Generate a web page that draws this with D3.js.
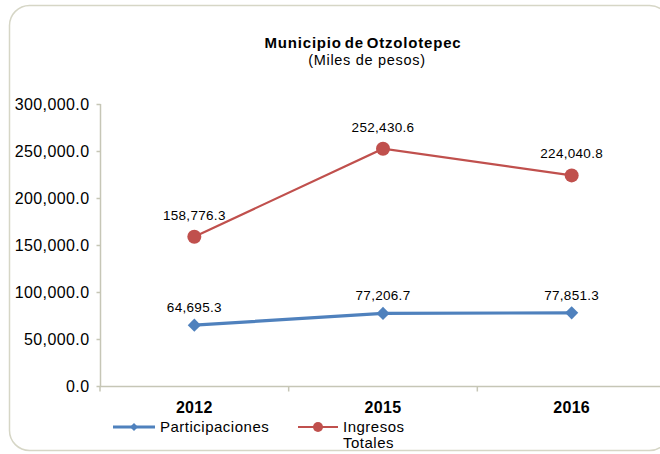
<!DOCTYPE html>
<html><head><meta charset="utf-8">
<script src="https://cdn.jsdelivr.net/npm/d3@7"></script>
<style>
html,body{margin:0;padding:0;background:#fff;}
svg{display:block;font-family:"Liberation Sans",Arial,sans-serif;}
</style></head>
<body>
<svg id="c" width="660" height="454"></svg>
<script>
const categories = ["2012", "2015", "2016"];
const participaciones = [64695.3, 77206.7, 77851.3];
const ingresosTotales = [158776.3, 252430.6, 224040.8];
const yTicks = [0, 50000, 100000, 150000, 200000, 250000, 300000];
const seriesNames = ["Participaciones", "Ingresos Totales"];

const svg = d3.select("#c");
const axisColor = "#c6c6b6";

// outer rounded border
svg.append("rect").attr("x", 9.5).attr("y", 5.5).attr("width", 660).attr("height", 445)
  .attr("rx", 20).attr("ry", 20).attr("fill", "none").attr("stroke", "#d6d6c6").attr("stroke-width", 1.5);

// title
svg.append("text").attr("x", 363).attr("y", 48).attr("text-anchor", "middle")
  .attr("font-size", 15).attr("font-weight", "bold").attr("letter-spacing", 0.8).attr("word-spacing", -2)
  .attr("fill", "#000").text("Municipio de Otzolotepec");
svg.append("text").attr("x", 367).attr("y", 65).attr("text-anchor", "middle")
  .attr("font-size", 14.5).attr("letter-spacing", 0.7)
  .attr("fill", "#000").text("(Miles de pesos)");

const x = d3.scaleBand().domain(categories).range([100, 666]).padding(0);
const y = d3.scaleLinear().domain([0, 300000]).range([386, 104]);

// y axis
const yAxis = d3.axisLeft(y).tickValues(yTicks).tickSize(4).tickPadding(7)
  .tickFormat(d => d3.format(",.1f")(d));
const gy = svg.append("g").attr("transform", "translate(100.5,0)").call(yAxis);
gy.select(".domain").attr("stroke", axisColor).attr("stroke-width", 1.5).attr("d", "M0,104V386");
gy.selectAll(".tick line").attr("stroke", axisColor).attr("stroke-width", 1.5);
gy.selectAll(".tick text").attr("font-size", 16).attr("letter-spacing", 0.4)
  .attr("fill", "#000").attr("font-family", "Liberation Sans, Arial, sans-serif");

// x axis
const gx = svg.append("g").attr("transform", "translate(0,386.5)");
gx.append("line").attr("x1", 100).attr("x2", 660).attr("y1", 0).attr("y2", 0)
  .attr("stroke", axisColor).attr("stroke-width", 1.5);
categories.forEach((c, i) => {
  const bx = x(c);
  gx.append("line").attr("x1", bx).attr("x2", bx).attr("y1", 0).attr("y2", 5)
    .attr("stroke", axisColor).attr("stroke-width", 1.5);
  gx.append("text").attr("x", bx + x.bandwidth() / 2).attr("y", 26)
    .attr("text-anchor", "middle").attr("font-size", 16).attr("font-weight", "bold")
    .attr("letter-spacing", 0.3).attr("fill", "#000").text(c);
});

const cx = c => x(c) + x.bandwidth() / 2;
const fmt = d3.format(",.1f");

const red = "#c0504d", blue = "#4f81bd";
const redData = categories.map((c, i) => ({c, v: ingresosTotales[i]}));
const blueData = categories.map((c, i) => ({c, v: participaciones[i]}));
const line = d3.line().x(d => cx(d.c)).y(d => y(d.v));

// Ingresos Totales (red)
svg.append("path").datum(redData).attr("d", line).attr("fill", "none")
  .attr("stroke", red).attr("stroke-width", 2.2);
svg.selectAll(".rm").data(redData).enter().append("circle")
  .attr("cx", d => cx(d.c)).attr("cy", d => y(d.v)).attr("r", 7).attr("fill", red);
svg.selectAll(".rl").data(redData).enter().append("text")
  .attr("x", d => cx(d.c)).attr("y", d => y(d.v) - 17).attr("text-anchor", "middle")
  .attr("font-size", 13.5).attr("letter-spacing", 0.3).attr("fill", "#000").text(d => fmt(d.v));

// Participaciones (blue)
svg.append("path").datum(blueData).attr("d", line).attr("fill", "none")
  .attr("stroke", blue).attr("stroke-width", 3.2);
const diamond = d3.symbol().type(d3.symbolDiamond2).size(110);
svg.selectAll(".bm").data(blueData).enter().append("path")
  .attr("transform", d => `translate(${cx(d.c)},${y(d.v)})`).attr("d", diamond()).attr("fill", blue);
svg.selectAll(".bl").data(blueData).enter().append("text")
  .attr("x", d => cx(d.c)).attr("y", d => y(d.v) - 13).attr("text-anchor", "middle")
  .attr("font-size", 13.5).attr("letter-spacing", 0.3).attr("fill", "#000").text(d => fmt(d.v));

// legend
const lg = svg.append("g");
lg.append("line").attr("x1", 113).attr("x2", 155).attr("y1", 427).attr("y2", 427)
  .attr("stroke", blue).attr("stroke-width", 3.2);
lg.append("path").attr("transform", "translate(134,427)").attr("d", d3.symbol().type(d3.symbolDiamond2).size(40)()).attr("fill", blue);
lg.append("text").attr("x", 160).attr("y", 432).attr("font-size", 15).attr("letter-spacing", 0.5)
  .attr("fill", "#000").text(seriesNames[0]);
lg.append("line").attr("x1", 298).attr("x2", 338).attr("y1", 427).attr("y2", 427)
  .attr("stroke", red).attr("stroke-width", 2.2);
lg.append("circle").attr("cx", 318).attr("cy", 427).attr("r", 5).attr("fill", red);
const words = seriesNames[1].split(" ");
const t2 = lg.append("text").attr("font-size", 15).attr("letter-spacing", 0.5).attr("fill", "#000");
t2.append("tspan").attr("x", 343).attr("y", 432).text(words[0]);
t2.append("tspan").attr("x", 343).attr("y", 448).text(words[1]);
</script>
</body></html>
